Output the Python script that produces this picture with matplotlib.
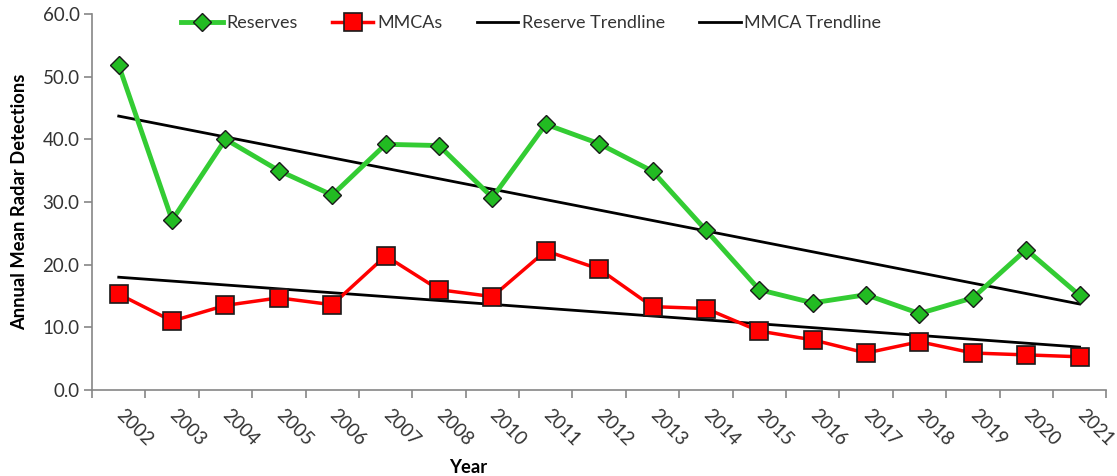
import numpy as np
import matplotlib
matplotlib.use("Agg")
import matplotlib.pyplot as plt
from matplotlib.ticker import FixedLocator

plt.rcParams['font.family'] = ['Lato', 'DejaVu Sans']

years = ["2002", "2003", "2004", "2005", "2006", "2007", "2008", "2010", "2011", "2012",
         "2013", "2014", "2015", "2016", "2017", "2018", "2019", "2020", "2021"]
reserves = [51.8, 27.1, 40.0, 35.0, 31.1, 39.2, 39.0, 30.7, 42.4, 39.3,
            34.9, 25.5, 16.0, 13.9, 15.2, 12.2, 14.7, 22.4, 15.1]
mmcas = [15.3, 11.0, 13.5, 14.7, 13.6, 21.4, 16.0, 14.9, 22.2, 19.3,
         13.3, 13.0, 9.4, 8.0, 5.9, 7.7, 5.9, 5.6, 5.3]

x = np.arange(len(years))
res_fit = np.polyval(np.polyfit(x, reserves, 1), x)
mm_fit = np.polyval(np.polyfit(x, mmcas, 1), x)

fig = plt.figure(figsize=(11.17, 4.76), dpi=100)
ax = fig.add_axes([0.0824, 0.1807, 0.908, 0.790])

grey = '#868686'
ax.plot(x, reserves, color='#33CC33', lw=3.5, marker='D', ms=9,
        mfc='#22BB22', mec='#1a1a1a', mew=1.0, label='Reserves', zorder=4)
ax.plot(x, mmcas, color='#FF0000', lw=2.5, marker='s', ms=12.5,
        mfc='#FF0000', mec='#1a1a1a', mew=1.2, label='MMCAs', zorder=4)
ax.plot(x, res_fit, color='black', lw=2.0, label='Reserve Trendline', zorder=3)
ax.plot(x, mm_fit, color='black', lw=2.0, label='MMCA Trendline', zorder=3)

ax.set_xlim(-0.5, len(years) - 0.5)
ax.set_ylim(0, 60)
ax.set_yticks(np.arange(0, 61, 10))
ax.set_yticklabels([f"{v:.1f}" for v in np.arange(0, 61, 10)], fontsize=13.5, color='#333333')

ax.set_xticks(x)
ax.set_xticklabels(years, fontsize=13.5, color='#333333', rotation=-45,
                   rotation_mode='anchor', ha='left', va='center')
ax.tick_params(axis='x', which='major', length=0, pad=16)
ax.xaxis.set_minor_locator(FixedLocator(np.arange(-0.5, len(years), 1.0)))
ax.tick_params(axis='x', which='minor', length=6, color=grey, width=1.2)
ax.tick_params(axis='y', length=6, color=grey, width=1.2, pad=3)

for s in ['top', 'right']:
    ax.spines[s].set_visible(False)
for s in ['left', 'bottom']:
    ax.spines[s].set_color(grey)
    ax.spines[s].set_linewidth(1.2)

ax.set_ylabel('Annual Mean Radar Detections', fontsize=13.2, fontweight='bold', labelpad=10)
ax.set_xlabel('Year', fontsize=13.2, fontweight='bold')
ax.xaxis.set_label_coords(0.371, -0.183)

leg = ax.legend(loc='upper center', bbox_to_anchor=(0.433, 1.04), ncol=4, frameon=False,
                fontsize=13, handlelength=2.3, handletextpad=0.2, columnspacing=1.9,
                labelcolor='#333333')

fig.savefig('out.png', dpi=100)
